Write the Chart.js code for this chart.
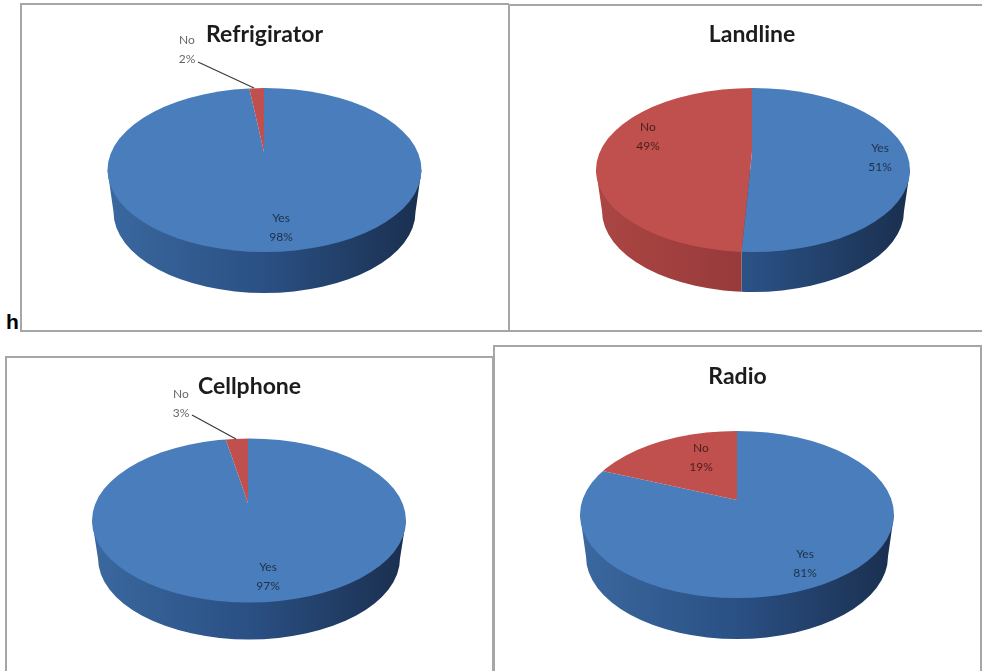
<!DOCTYPE html>
<html>
<head>
<meta charset="utf-8">
<title>Household ownership</title>
<script src="https://cdn.jsdelivr.net/npm/chart.js@4"></script>
<style>
  html, body { margin: 0; padding: 0; background: #fff; overflow: hidden; }
  body { position: relative; width: 982px; height: 671px; }
  canvas { position: absolute; }
  .frame { position: absolute; box-sizing: border-box; border: 0 solid #a6a6a6; background: #fff; }
  #stray { position: absolute; left: 6px; top: 310px; font: bold 21px "Liberation Sans", sans-serif; color: #000; }
</style>
</head>
<body>
<canvas id="refrigerator"></canvas>
<canvas id="landline"></canvas>
<canvas id="cellphone"></canvas>
<canvas id="radio"></canvas>
<div id="stray">h</div>
<script>
var CATEGORIES = ["Yes", "No"];
var REFRIGERATOR = [98, 2];
var LANDLINE = [51, 49];
var CELLPHONE = [97, 3];
var RADIO = [81, 19];

var TOP_COLORS = ["#4a7dbc", "#c0504d"];
var WALL_COLORS = [
  ["#3a689f", "#2a5084", "#1a2f4e"],
  ["#ab4643", "#96393a", "#7a2e2c"],
];

// Page-space layout for each pie: frame, top ellipse, hub, rim depth, label spots
var PANELS = [
  {
    id: "refrigerator", title: "Refrigirator", values: REFRIGERATOR,
    frame: { x: 20, y: 3, w: 489, h: 329, sides: "2px 0 2px 2px" }, titleY: 33,
    cx: 264.5, cy: 170, rx: 157, ry: 82, hubX: 264, hubY: 152, depth: 42,
    labels: [{ x: 281, y: 218 }, { x: 187, y: 40 }],
    leader: [198, 62, 254, 88],
  },
  {
    id: "landline", title: "Landline", values: LANDLINE,
    frame: { x: 508, y: 4, w: 488, h: 328, sides: "2px 0 2px 2px" }, titleY: 33,
    cx: 753, cy: 170, rx: 157, ry: 82, hubX: 752, hubY: 152, depth: 41,
    labels: [{ x: 880, y: 148 }, { x: 648, y: 127 }],
  },
  {
    id: "cellphone", title: "Cellphone", values: CELLPHONE,
    frame: { x: 5, y: 356, w: 489, h: 320, sides: "2px 2px 0 2px" }, titleY: 385,
    cx: 249, cy: 520.5, rx: 157, ry: 82, hubX: 248, hubY: 503, depth: 38,
    labels: [{ x: 268, y: 567 }, { x: 181, y: 394 }],
    leader: [192, 415, 236, 439],
  },
  {
    id: "radio", title: "Radio", values: RADIO,
    frame: { x: 493, y: 345, w: 489, h: 331, sides: "2px 2px 0 2px" }, titleY: 375,
    cx: 737, cy: 514.5, rx: 157, ry: 83.5, hubX: 737, hubY: 500, depth: 42,
    labels: [{ x: 805, y: 554 }, { x: 701, y: 448 }],
  },
];

// Foreshortening of the pie plane on either side of the hub
var SQUASH_BACK = 0.545;
var SQUASH_FRONT = 0.6;
var OVERSCAN = 1.4;

function frontRimX(p, angle) {
  // where a slice edge meets the front of the top ellipse
  var dx = Math.cos(angle);
  var dy = Math.sin(angle) * SQUASH_FRONT;
  var ox = p.hubX - p.cx;
  var oy = p.hubY - p.cy;
  var a = (dx * dx) / (p.rx * p.rx) + (dy * dy) / (p.ry * p.ry);
  var b = 2 * ((ox * dx) / (p.rx * p.rx) + (oy * dy) / (p.ry * p.ry));
  var c = (ox * ox) / (p.rx * p.rx) + (oy * oy) / (p.ry * p.ry) - 1;
  var t = (-b + Math.sqrt(b * b - 4 * a * c)) / (2 * a);
  return p.hubX + t * dx;
}

function reachesFront(arc) {
  for (var i = 0; i <= 72; i++) {
    var a = arc.startAngle + ((arc.endAngle - arc.startAngle) * i) / 72;
    if (Math.sin(a) > 0) return true;
  }
  return false;
}

function drawWall(ctx, p, arcs) {
  var bottomRx = p.rx - 6;
  var bottomCy = p.cy + p.depth;
  arcs.forEach(function (arc, i) {
    if (!reachesFront(arc)) return;
    var right = Math.sin(arc.startAngle) > 0 ? frontRimX(p, arc.startAngle) : p.cx + p.rx + 2;
    var left = Math.sin(arc.endAngle) > 0 ? frontRimX(p, arc.endAngle) : p.cx - p.rx - 2;
    var grad = ctx.createLinearGradient(p.cx - p.rx, 0, p.cx + p.rx, 0);
    grad.addColorStop(0, WALL_COLORS[i][0]);
    grad.addColorStop(0.5, WALL_COLORS[i][1]);
    grad.addColorStop(1, WALL_COLORS[i][2]);
    ctx.save();
    ctx.beginPath();
    ctx.rect(left, p.cy - p.ry, right - left, p.ry * 2 + p.depth + 4);
    ctx.clip();
    ctx.fillStyle = grad;
    ctx.beginPath();
    ctx.ellipse(p.cx, bottomCy, bottomRx, p.ry - 1, 0, 0, Math.PI);
    ctx.lineTo(p.cx - p.rx, p.cy);
    ctx.lineTo(p.cx + p.rx, p.cy);
    ctx.closePath();
    ctx.fill();
    ctx.restore();
  });
}

function drawTopHalf(ctx, p, arcs, back) {
  var first = arcs[0];
  var kx = (p.rx * OVERSCAN) / first.outerRadius;
  var ky = kx * (back ? SQUASH_BACK : SQUASH_FRONT);
  ctx.save();
  ctx.beginPath();
  ctx.ellipse(p.cx, p.cy, p.rx, p.ry, 0, 0, Math.PI * 2);
  ctx.clip();
  ctx.beginPath();
  if (back) ctx.rect(p.cx - p.rx - 2, p.cy - p.ry - 2, p.rx * 2 + 4, p.hubY - p.cy + p.ry + 2);
  else ctx.rect(p.cx - p.rx - 2, p.hubY, p.rx * 2 + 4, p.cy + p.ry - p.hubY + 2);
  ctx.clip();
  ctx.translate(p.hubX, p.hubY);
  ctx.scale(kx, ky);
  ctx.translate(-first.x, -first.y);
  arcs.forEach(function (arc) {
    arc.draw(ctx);
  });
  ctx.restore();
}

// Tilts the library's arcs into a 3D-looking disc with a side wall
var tiltedPie = {
  id: "tiltedPie",
  beforeDatasetsDraw: function (chart) {
    var p = chart.options.plugins.tiltedPie.panel;
    var arcs = chart.getDatasetMeta(0).data;
    var ctx = chart.ctx;
    ctx.save();
    ctx.translate(-p.frame.x, -p.frame.y);
    drawWall(ctx, p, arcs);
    drawTopHalf(ctx, p, arcs, true);
    drawTopHalf(ctx, p, arcs, false);
    ctx.restore();
    return false;
  },
  afterDraw: function (chart) {
    var p = chart.options.plugins.tiltedPie.panel;
    var ctx = chart.ctx;
    ctx.save();
    ctx.translate(-p.frame.x, -p.frame.y);
    if (p.leader) {
      ctx.strokeStyle = "#3a3a3a";
      ctx.lineWidth = 1.2;
      ctx.beginPath();
      ctx.moveTo(p.leader[0], p.leader[1]);
      ctx.lineTo(p.leader[2], p.leader[3]);
      ctx.stroke();
    }
    ctx.font = "12px Lato, sans-serif";
    ctx.textAlign = "center";
    ctx.textBaseline = "middle";
    ctx.fillStyle = "rgba(0,0,0,0.62)";
    p.labels.forEach(function (spot, i) {
      ctx.fillText(CATEGORIES[i], spot.x, spot.y);
      ctx.fillText(p.values[i] + "%", spot.x, spot.y + 19);
    });
    ctx.restore();
  },
};

PANELS.forEach(function (p) {
  var canvas = document.getElementById(p.id);

  // the border sits on its own div so the canvas keeps page-aligned pixels
  var frame = document.createElement("div");
  frame.className = "frame";
  frame.style.left = p.frame.x + "px";
  frame.style.top = p.frame.y + "px";
  frame.style.width = p.frame.w + "px";
  frame.style.height = p.frame.h + "px";
  frame.style.borderWidth = p.frame.sides;
  document.body.insertBefore(frame, canvas);

  canvas.width = p.frame.w;
  canvas.height = p.frame.h;
  canvas.style.left = p.frame.x + "px";
  canvas.style.top = p.frame.y + "px";

  new Chart(canvas, {
    type: "pie",
    data: {
      labels: CATEGORIES,
      datasets: [{ data: p.values, backgroundColor: TOP_COLORS, borderWidth: 0 }],
    },
    plugins: [tiltedPie],
    options: {
      responsive: false,
      animation: false,
      layout: { padding: 0 },
      plugins: {
        legend: { display: false },
        tooltip: { enabled: false },
        title: {
          display: true,
          text: p.title,
          color: "#1c1c1c",
          font: { family: "Lato", size: 23, weight: "bold" },
          padding: { top: p.titleY - p.frame.y - 12, bottom: 4 },
        },
        tiltedPie: { panel: p },
      },
    },
  });
});
</script>
</body>
</html>
